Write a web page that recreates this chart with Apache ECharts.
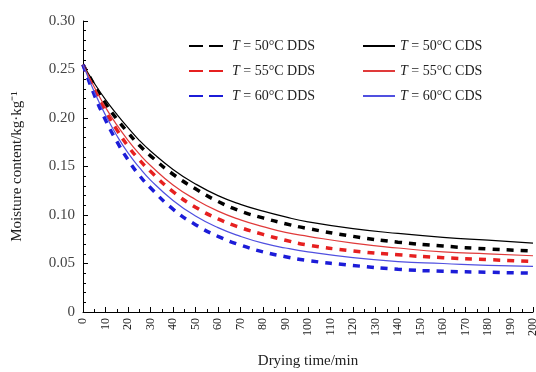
<!DOCTYPE html>
<html>
<head>
<meta charset="utf-8">
<script src="https://cdn.jsdelivr.net/npm/echarts@6/dist/echarts.min.js"></script>
<style>
	html, body { margin: 0; padding: 0; background: #fff; }
	#chart { width: 536px; height: 372px; }
</style>
</head>
<body>
<div id="chart"></div>
<script>
	// 干燥时间 (min)
	var times = [0, 5, 10, 15, 20, 25, 30, 40, 50, 60, 70, 80, 90, 100, 120, 140, 160, 180, 200];

	// 含水率, 读自原图
	var dds50 = [0.255, 0.234, 0.215, 0.199, 0.185, 0.172, 0.161, 0.142, 0.127, 0.114, 0.104, 0.097, 0.091, 0.086, 0.078, 0.072, 0.068, 0.065, 0.063];
	var cds50 = [0.255, 0.236, 0.219, 0.204, 0.190, 0.177, 0.166, 0.147, 0.132, 0.120, 0.111, 0.104, 0.098, 0.093, 0.086, 0.081, 0.077, 0.074, 0.071];
	var dds55 = [0.255, 0.229, 0.207, 0.188, 0.171, 0.157, 0.145, 0.124, 0.108, 0.096, 0.087, 0.080, 0.074, 0.069, 0.063, 0.059, 0.056, 0.054, 0.052];
	var cds55 = [0.255, 0.232, 0.211, 0.193, 0.177, 0.163, 0.151, 0.131, 0.116, 0.104, 0.095, 0.088, 0.082, 0.078, 0.071, 0.066, 0.062, 0.060, 0.058];
	var dds60 = [0.255, 0.224, 0.198, 0.176, 0.157, 0.141, 0.128, 0.106, 0.090, 0.078, 0.069, 0.062, 0.057, 0.053, 0.048, 0.044, 0.042, 0.041, 0.040];
	var cds60 = [0.255, 0.227, 0.203, 0.182, 0.164, 0.149, 0.136, 0.115, 0.099, 0.087, 0.078, 0.071, 0.066, 0.062, 0.056, 0.052, 0.050, 0.048, 0.047];

	var ddsNames = ['T = 50°C DDS', 'T = 55°C DDS', 'T = 60°C DDS'];
	var cdsNames = ['T = 50°C CDS', 'T = 55°C CDS', 'T = 60°C CDS'];

	function pairs(ys) {
		return times.map(function (t, i) { return [t, ys[i]]; });
	}

	var font = 'Liberation Serif';

	function legendText(name) {
		return '{i|T}' + name.slice(1);
	}

	function dashed(name, color, ys) {
		return {
			name: name, type: 'line', smooth: true, showSymbol: false, symbol: 'none',
			lineStyle: { color: color, width: 3.5, type: [7, 7] },
			itemStyle: { color: color },
			data: pairs(ys), z: 2
		};
	}
	function solid(name, color, ys) {
		return {
			name: name, type: 'line', smooth: true, showSymbol: false, symbol: 'none',
			lineStyle: { color: color, width: 1.2 },
			itemStyle: { color: color },
			data: pairs(ys), z: 3
		};
	}

	var legendTextStyle = {
		fontFamily: font, fontSize: 14, color: '#222',
		rich: { i: { fontFamily: font, fontSize: 14, fontStyle: 'italic', color: '#222' } }
	};

	var myChart = echarts.init(document.getElementById('chart'));
	var option = {
		animation: false,
		backgroundColor: '#fff',
		grid: { left: 83, right: 3, top: 21, bottom: 60, outerBoundsMode: 'none' },
		legend: [
			{
				orient: 'vertical', left: 183, top: 34, itemGap: 11,
				itemWidth: 38, itemHeight: 14,
				itemStyle: { opacity: 0 },
				data: ddsNames.map(function (n) { return { name: n, lineStyle: { type: [14, 6] } }; }),
				formatter: legendText,
				textStyle: legendTextStyle
			},
			{
				orient: 'vertical', left: 357, top: 34, itemGap: 11,
				itemWidth: 32, itemHeight: 14,
				itemStyle: { opacity: 0 },
				data: cdsNames,
				formatter: legendText,
				textStyle: legendTextStyle
			}
		],
		xAxis: {
			type: 'value', min: 0, max: 200, interval: 10,
			name: 'Drying time/min', nameLocation: 'middle', nameGap: 42,
			nameTextStyle: { fontFamily: font, fontSize: 15, color: '#222' },
			axisLine: { onZero: false, lineStyle: { color: '#000', width: 1 } },
			axisTick: { inside: true, length: 5, lineStyle: { color: '#000' } },
			minorTick: { show: true, splitNumber: 2, length: 3, lineStyle: { color: '#000' } },
			splitLine: { show: false },
			axisLabel: { rotate: 90, fontFamily: font, fontSize: 12, color: '#222', margin: 6 }
		},
		yAxis: {
			type: 'value', min: 0, max: 0.3, interval: 0.05,
			name: 'Moisture content/kg·kg⁻¹', nameLocation: 'middle', nameGap: 58,
			nameTextStyle: { fontFamily: font, fontSize: 15, color: '#222' },
			axisLine: { show: true, lineStyle: { color: '#000', width: 1 } },
			axisTick: { inside: true, length: 5, lineStyle: { color: '#000' } },
			minorTick: { show: true, splitNumber: 5, length: 3, lineStyle: { color: '#000' } },
			splitLine: { show: false },
			axisLabel: {
				fontFamily: font, fontSize: 15, color: '#444', margin: 8,
				formatter: function (v) { return v === 0 ? '0' : v.toFixed(2); }
			}
		},
		series: [
			dashed(ddsNames[0], '#000000', dds50),
			dashed(ddsNames[1], '#e62020', dds55),
			dashed(ddsNames[2], '#1c1cd8', dds60),
			solid(cdsNames[0], '#000000', cds50),
			solid(cdsNames[1], '#e03a3a', cds55),
			solid(cdsNames[2], '#5050e0', cds60)
		]
	};
	myChart.setOption(option);
</script>
</body>
</html>
